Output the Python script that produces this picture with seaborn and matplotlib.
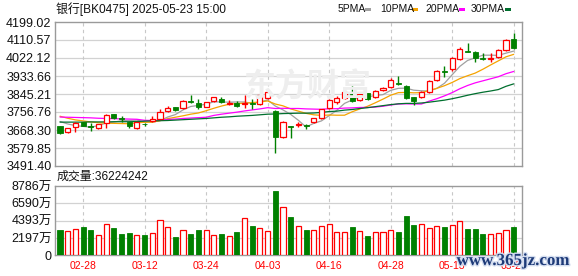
import matplotlib
matplotlib.use("Agg")
import matplotlib.pyplot as plt
import matplotlib.patheffects as pe
from matplotlib.patches import Rectangle
import numpy as np
import pandas as pd
import seaborn as sns

# ---------------- data ----------------
dates = ["02-25", "02-26", "02-27", "02-28", "03-03", "03-04", "03-05", "03-06", "03-07", "03-10",
         "03-11", "03-12", "03-13", "03-14", "03-17", "03-18", "03-19", "03-20", "03-21", "03-24",
         "03-25", "03-26", "03-27", "03-28", "03-31", "04-01", "04-02", "04-03", "04-07", "04-08",
         "04-09", "04-10", "04-11", "04-14", "04-15", "04-16", "04-17", "04-18", "04-21", "04-22",
         "04-23", "04-24", "04-25", "04-28", "04-29", "04-30", "05-06", "05-07", "05-08", "05-09",
         "05-12", "05-13", "05-14", "05-15", "05-16", "05-19", "05-20", "05-21", "05-22", "05-23"]

open_ = [3688, 3657, 3685, 3707, 3688, 3677, 3705, 3745, 3727, 3707,
         3677, 3700, 3712, 3722, 3760, 3780, 3775, 3812, 3799, 3783,
         3811, 3821, 3796, 3803, 3798, 3803, 3796, 3824, 3763, 3632,
         3688, 3695, 3690, 3706, 3725, 3775, 3804, 3824, 3845, 3816,
         3849, 3829, 3866, 3881, 3900, 3884, 3832, 3832, 3857, 3913,
         3960, 3966, 4016, 4056, 4050, 4024, 4016, 4025, 4061, 4115]
high = [3690, 3680, 3710, 3710, 3702, 3700, 3745, 3747, 3738, 3710,
        3709, 3704, 3735, 3773, 3788, 3783, 3816, 3840, 3819, 3807,
        3832, 3832, 3816, 3811, 3840, 3819, 3845, 3860, 3766, 3712,
        3690, 3709, 3700, 3728, 3772, 3822, 3835, 3862, 3885, 3850,
        3852, 3866, 3878, 3924, 3934, 3889, 3832, 3862, 3914, 3962,
        3985, 4025, 4078, 4094, 4058, 4045, 4048, 4066, 4115, 4147]
low = [3650, 3652, 3660, 3687, 3665, 3675, 3680, 3723, 3707, 3677,
       3675, 3688, 3708, 3720, 3755, 3763, 3771, 3803, 3770, 3780,
       3808, 3799, 3791, 3783, 3775, 3770, 3790, 3820, 3557, 3628,
       3630, 3681, 3672, 3702, 3722, 3770, 3796, 3820, 3806, 3812,
       3817, 3825, 3862, 3876, 3889, 3822, 3793, 3828, 3852, 3908,
       3930, 3960, 4010, 4050, 4004, 4012, 4004, 4020, 4056, 4066]
close = [3655, 3677, 3705, 3690, 3683, 3697, 3742, 3725, 3722, 3690,
         3707, 3696, 3722, 3756, 3778, 3768, 3812, 3806, 3783, 3804,
         3829, 3806, 3803, 3788, 3803, 3796, 3840, 3855, 3636, 3709,
         3684, 3698, 3687, 3725, 3770, 3816, 3827, 3855, 3810, 3844,
         3821, 3862, 3873, 3915, 3895, 3827, 3812, 3857, 3909, 3958,
         3955, 4020, 4065, 4053, 4024, 4016, 4020, 4061, 4111, 4073]

# volume in 万 (10k lots)
volume = [3210, 3040, 3290, 3550, 3210, 2535, 3930, 3420, 2700, 2790,
          2535, 2580, 2790, 4480, 3550, 2320, 3210, 2700, 3210, 3210,
          2535, 2700, 2450, 2960, 4690, 3720, 3420, 3085, 8155, 6085,
          4860, 3680, 3210, 3210, 3680, 3930, 2960, 2960, 3590, 3085,
          2450, 2960, 2960, 3210, 2960, 4990, 3850, 3930, 3465, 3680,
          3590, 3850, 4310, 3340, 3340, 2700, 2660, 2790, 3210, 3622]

ma5 = [3710, 3698, 3690, 3686, 3682, 3690, 3703, 3707, 3714, 3715,
       3717, 3708, 3707, 3714, 3732, 3744, 3767, 3784, 3789, 3795,
       3807, 3806, 3805, 3806, 3806, 3799, 3806, 3816, 3786, 3767,
       3745, 3716, 3683, 3701, 3713, 3739, 3765, 3799, 3816, 3830,
       3831, 3838, 3842, 3863, 3873, 3874, 3864, 3861, 3860, 3873,
       3898, 3940, 3981, 4010, 4023, 4036, 4036, 4035, 4046, 4056]
ma10 = [3736, 3726, 3718, 3713, 3708, 3704, 3702, 3701, 3700, 3699,
        3704, 3706, 3707, 3714, 3724, 3731, 3738, 3746, 3752, 3763,
        3775, 3786, 3795, 3798, 3800, 3803, 3806, 3811, 3796, 3787,
        3772, 3761, 3750, 3743, 3740, 3742, 3741, 3741, 3758, 3772,
        3785, 3802, 3820, 3839, 3852, 3853, 3851, 3852, 3862, 3873,
        3886, 3902, 3921, 3935, 3948, 3967, 3988, 4008, 4028, 4040]
ma20 = [3732, 3731, 3730, 3729, 3728, 3726, 3725, 3724, 3723, 3722,
        3721, 3716, 3715, 3717, 3720, 3722, 3725, 3727, 3729, 3731,
        3740, 3746, 3751, 3756, 3762, 3767, 3772, 3778, 3774, 3775,
        3774, 3774, 3772, 3771, 3770, 3773, 3773, 3776, 3777, 3779,
        3779, 3781, 3785, 3791, 3796, 3797, 3796, 3796, 3810, 3822,
        3836, 3852, 3871, 3887, 3900, 3910, 3920, 3930, 3945, 3956]
ma30 = [3707, 3707, 3707, 3707, 3708, 3708, 3708, 3709, 3709, 3709,
        3710, 3712, 3713, 3714, 3715, 3717, 3719, 3721, 3723, 3725,
        3728, 3731, 3733, 3736, 3738, 3740, 3743, 3746, 3747, 3749,
        3750, 3751, 3751, 3752, 3755, 3759, 3761, 3766, 3769, 3774,
        3778, 3783, 3788, 3793, 3797, 3799, 3799, 3801, 3805, 3810,
        3815, 3822, 3830, 3839, 3847, 3854, 3860, 3867, 3883, 3895]

price_ticks = [4199.02, 4110.57, 4022.12, 3933.66, 3845.21, 3756.76, 3668.30, 3579.85, 3491.40]
price_labels = ["4199.02", "4110.57", "4022.12", "3933.66", "3845.21", "3756.76", "3668.30", "3579.85", "3491.40"]
vol_ticks = [0, 2197, 4393, 6590, 8786]
vol_labels = ["0", "2197万", "4393万", "6590万", "8786万"]
date_labels = ["02-28", "03-12", "03-24", "04-03", "04-16", "04-28", "05-13", "05-23"]

title = "银行[BK0475] 2025-05-23 15:00"
vol_title = "成交量:36224242"
ma_names = ["5PMA", "10PMA", "20PMA", "30PMA"]

# ---------------- style ----------------
sns.set_style("white")
plt.rcParams["font.family"] = ["Liberation Sans", "Noto Sans CJK SC", "DejaVu Sans"]

RED = "#ff0000"
GREEN = "#008000"
MA_COLORS = ["#a0a0a0", "#f5a300", "#ff00ff", "#006f2e"]
GRID = "#d2d2d2"
FRAME = "#9a9a9a"

W, H = 578, 276
fig = plt.figure(figsize=(W / 100, H / 100), dpi=100)
fig.patch.set_facecolor("white")

def fx(px):
    return px / W

def fy(py):
    return 1 - py / H

ax_p = fig.add_axes([fx(55), fy(166), fx(467), 144 / H])
ax_v = fig.add_axes([fx(55), fy(255.3), fx(467), 69.3 / H])

df = pd.DataFrame({"idx": np.arange(len(dates)), "date": dates, "open": open_, "high": high,
                   "low": low, "close": close, "volume": volume,
                   "5PMA": ma5, "10PMA": ma10, "20PMA": ma20, "30PMA": ma30})
up = df["close"] >= df["open"]
xlim = (-0.65, 60.08)
tick_pos = [dates.index(d) for d in date_labels]

# ---------------- price panel ----------------
ax = ax_p
ax.set_xlim(*xlim)
ax.set_ylim(price_ticks[-1], price_ticks[0])
for t in price_ticks[1:-1]:
    ax.axhline(t, color=GRID, lw=0.9, zorder=0.5)
for p in tick_pos:
    ax.axvline(p, color="#c8c8c8", lw=0.8, ls=(0, (3, 3)), zorder=0.5)

# faint watermark of the data vendor
fig.text(fx(307), fy(88), "东方财富", fontsize=23, fontweight="bold", color="#eeeeee",
         ha="center", va="center", family=["Noto Sans CJK SC"], zorder=0.6)

for name, col in zip(ma_names, MA_COLORS):
    sns.lineplot(data=df, x="idx", y=name, ax=ax, color=col, lw=0.9, zorder=2)

ax.vlines(df["idx"], df["low"], df["high"], colors=np.where(up, RED, GREEN), lw=1.0, zorder=3)
body_h = np.maximum((df["close"] - df["open"]).abs(), 3.5)
body_b = np.minimum(df["close"], df["open"])
ax.bar(df["idx"][up], body_h[up], bottom=body_b[up], width=0.66, facecolor="white",
       edgecolor=RED, linewidth=0.9, zorder=4)
ax.bar(df["idx"][~up], body_h[~up], bottom=body_b[~up], width=0.66, facecolor=GREEN,
       edgecolor=GREEN, linewidth=0.6, zorder=4)

ax.set_yticks(price_ticks)
ax.set_yticklabels(price_labels, fontsize=9, color="#111111")
ax.set_xticks([])
ax.tick_params(axis="y", length=0, pad=2.5)
ax.set_xlabel("")
ax.set_ylabel("")
for s in ax.spines.values():
    s.set_color(FRAME)
    s.set_linewidth(1.0)

# ---------------- volume panel ----------------
ax = ax_v
ax.set_xlim(*xlim)
ax.set_ylim(0, vol_ticks[-1])
for t in vol_ticks[1:-1]:
    ax.axhline(t, color=GRID, lw=0.9, zorder=0.5)
for p in tick_pos:
    ax.axvline(p, color="#c8c8c8", lw=0.8, ls=(0, (3, 3)), zorder=0.5)
ax.bar(df["idx"][up], df["volume"][up], width=0.66, facecolor="white", edgecolor=RED,
       linewidth=0.9, zorder=3)
ax.bar(df["idx"][~up], df["volume"][~up], width=0.66, facecolor=GREEN, edgecolor=GREEN,
       linewidth=0.6, zorder=3)
ax.set_yticks(vol_ticks)
ax.set_yticklabels(vol_labels, fontsize=9, color="#111111")
ax.set_xticks(tick_pos)
ax.set_xticklabels(date_labels, fontsize=7.5, color=RED)
ax.tick_params(axis="y", length=0, pad=2.5)
ax.tick_params(axis="x", length=0, pad=4)
ax.set_xlabel("")
ax.set_ylabel("")
for s in ax.spines.values():
    s.set_color(FRAME)
    s.set_linewidth(1.0)

# ---------------- header texts ----------------
fig.text(fx(56), fy(9.5), title, fontsize=8.6, color="#111111", ha="left", va="center")
fig.text(fx(57), fy(177), vol_title, fontsize=8.6, color="#111111", ha="left", va="center")

leg_x = [338, 380, 425, 471]
dash_x = [365, 412, 459, 505]
for name, col, lx, dx in zip(ma_names, MA_COLORS, leg_x, dash_x):
    fig.text(fx(lx), fy(9.5), name, fontsize=7.5, color="#111111", ha="left", va="center")
    fig.add_artist(Rectangle((fx(dx), fy(10.5)), fx(5.5), 2.2 / H, transform=fig.transFigure,
                             facecolor=col, edgecolor="none"))

# site watermark (overlaps the last date labels, as in the reference)
fig.text(fx(513), fy(261), "www.365jz.com", fontsize=12.2, fontweight="bold", color="#1d3a78",
         family=["Liberation Serif"], ha="center", va="center", zorder=10,
         path_effects=[pe.withStroke(linewidth=2, foreground="#d5def0")])

fig.savefig("out.png", dpi=100, facecolor="white")
